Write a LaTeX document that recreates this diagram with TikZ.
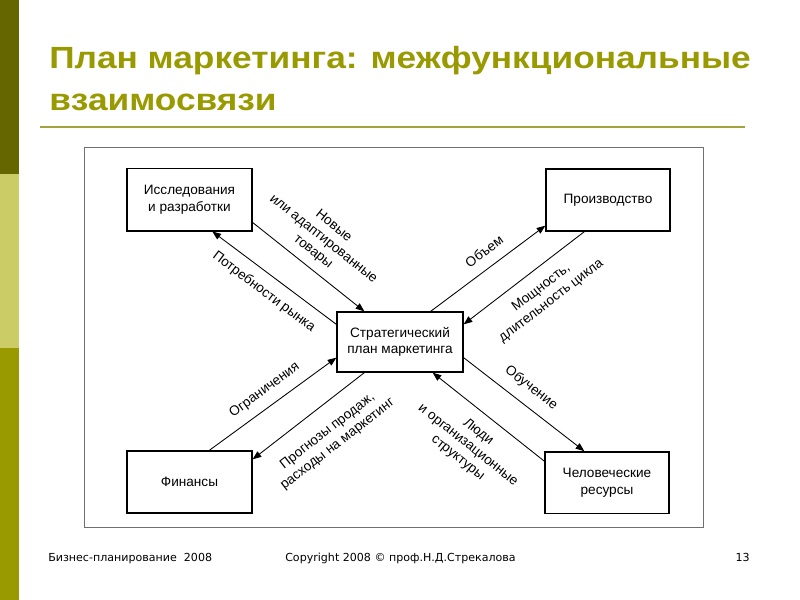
\documentclass[tikz,border=0pt]{standalone}
\usepackage{fontspec}
\setmainfont{Liberation Sans}
\newfontfamily\footfont{DejaVu Sans}
\newfontfamily\titlefont[FakeStretch=1.15]{Liberation Sans Bold}
\usetikzlibrary{arrows.meta,calc}
\definecolor{olivedark}{HTML}{666600}
\definecolor{olivelight}{HTML}{CCCC66}
\definecolor{olivemid}{HTML}{999900}
\definecolor{titlecol}{HTML}{999900}
\definecolor{rulecol}{HTML}{A3A33D}
\definecolor{framecol}{HTML}{707070}
\begin{document}
\begin{tikzpicture}[x=0.75pt,y=-0.75pt,
  box/.style={draw=black, line width=1pt, align=center, inner sep=0pt,
    font=\fontsize{10.2}{12.5}\selectfont},
  conn/.style={line width=0.65pt},
  tipend/.style={-{Triangle[length=6.5pt,width=5pt]}},
  tipstart/.style={{Triangle[length=6.5pt,width=5pt]}-},
  lab/.style={sloped, inner sep=0pt, align=center, font=\fontsize{10.2}{12.3}\selectfont},
  titletext/.style={anchor=base west, inner sep=0pt, text=titlecol,
    font=\titlefont\fontsize{23}{27}\selectfont},
  foottext/.style={inner sep=0pt, font=\footfont\fontsize{8.3}{9}\selectfont}
]
\useasboundingbox (0,0) rectangle (800,600);
\fill[white] (0,0) rectangle (800,600);
% left colour bar
\fill[olivedark] (0,0) rectangle (19,174);
\fill[olivelight] (0,174) rectangle (19,348);
\fill[olivemid] (0,348) rectangle (19,600);
% title
\node[titletext] (t1) at (49,68) {План маркетинга: межфункциональные};
\node[titletext] (t2) at (49,110) {взаимосвязи};
\draw[rulecol, line width=1.5pt] (40,127) -- (745,127);
% frame
\draw[framecol, line width=0.75pt] (84,147) rectangle (703,527);
% boxes
\node[box, minimum width=93.75pt, minimum height=47pt] (rd) at (189.5,199.5) {Исследования\\и разработки};
\node[box, minimum width=93pt, minimum height=46.5pt] (pr) at (608,200) {Производство};
\node[box, minimum width=93.75pt, minimum height=46.5pt] (fi) at (189.5,482) {Финансы};
\node[box, minimum width=93pt, minimum height=46pt] (hr) at (607,482.5) {Человеческие\\ресурсы};
\node[box, minimum width=94.5pt, minimum height=45pt] (cp) at (400,342) {Стратегический\\план маркетинга};
% connectors
\draw[conn,tipend] ($(rd.south east)+(0,-9)$) -- node[lab,above=6pt,pos=0.46]{Новые\\или адаптированные\\товары} ($(cp.north west)+(28,0)$);
\draw[conn,tipstart] ($(rd.south west)+(86,0)$) -- node[lab,below=8pt,pos=0.5]{Потребности рынка} ($(cp.north west)+(0,13)$);
\draw[conn,tipend] ($(cp.north east)+(-33,0)$) -- node[lab,above=8pt,pos=0.55]{Объем} ($(pr.south west)+(0,-6)$);
\draw[conn,tipstart] ($(cp.north east)+(0,13)$) -- node[lab,below=9pt,pos=0.55]{Мощность,\\длительность цикла} ($(pr.south west)+(39,0)$);
\draw[conn,tipend] ($(fi.north west)+(83,0)$) -- node[lab,above=7pt,pos=0.51]{Ограничения} ($(cp.south west)+(0,-15)$);
\draw[conn,tipstart] ($(fi.north east)+(0,9)$) -- node[lab,below=13pt,pos=0.54]{Прогнозы продаж,\\расходы на маркетинг} ($(cp.south west)+(28,0)$);
\draw[conn,tipend] ($(cp.south east)+(0,-15)$) -- node[lab,above=8pt,pos=0.47]{Обучение} ($(hr.north west)+(40,0)$);
\draw[conn,tipstart] ($(cp.south east)+(-31,0)$) -- node[lab,below=9pt,pos=0.51]{Люди\\и организационные\\структуры} ($(hr.north west)+(0,10)$);
% footer
\node[foottext, anchor=base west] (f1) at (48,561) {Бизнес-планирование\ \ 2008};
\node[foottext, anchor=base west] (f2) at (285,561) {Copyright 2008 © проф.Н.Д.Стрекалова};
\node[foottext, anchor=base east] (f3) at (750,561) {13};
\end{tikzpicture}
\end{document}
